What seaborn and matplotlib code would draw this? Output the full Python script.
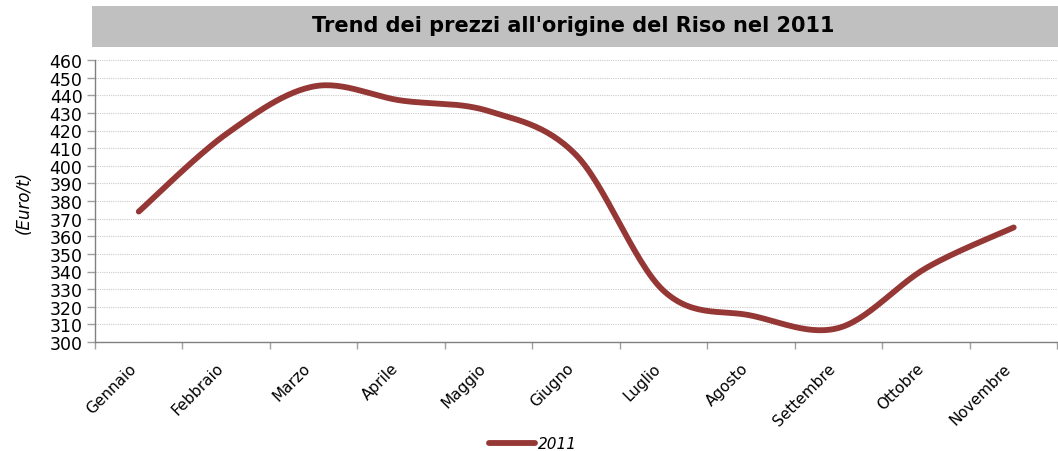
import numpy as np
import pandas as pd
import matplotlib
matplotlib.use("Agg")
import matplotlib.pyplot as plt
import seaborn as sns
from matplotlib.patches import Rectangle
from matplotlib.lines import Line2D

# ---- data ----
mesi = ["Gennaio", "Febbraio", "Marzo", "Aprile", "Maggio", "Giugno",
        "Luglio", "Agosto", "Settembre", "Ottobre", "Novembre"]
prezzi_2011 = [374, 418, 445, 437, 431, 406, 329, 315, 308, 342, 365]
serie = "2011"
titolo = "Trend dei prezzi all'origine del Riso nel 2011"
y_ticks = list(range(300, 461, 10))

color = "#953735"

sns.set_theme(style="white")
plt.rcParams["font.family"] = ["DejaVu Sans"]
plt.rcParams["text.color"] = "black"
plt.rcParams["xtick.color"] = "black"
plt.rcParams["ytick.color"] = "black"
plt.rcParams["axes.labelcolor"] = "black"

fig = plt.figure(figsize=(10.58, 4.52), dpi=100)
ax = fig.add_axes([95/1058, 1 - 343/452, 1 - 95/1058 - 0.0005, (343 - 61)/452])

# smooth (Excel-like Catmull-Rom) rendering of the series
x = np.arange(len(mesi), dtype=float)
y = np.array(prezzi_2011, dtype=float)
xs, ys = [], []
n = len(x)
for i in range(n - 1):
    p0 = (x[max(i-1, 0)], y[max(i-1, 0)])
    p1 = (x[i], y[i]); p2 = (x[i+1], y[i+1])
    p3 = (x[min(i+2, n-1)], y[min(i+2, n-1)])
    c1 = (p1[0] + (p2[0]-p0[0])/6, p1[1] + (p2[1]-p0[1])/6)
    c2 = (p2[0] - (p3[0]-p1[0])/6, p2[1] - (p3[1]-p1[1])/6)
    t = np.linspace(0, 1, 30, endpoint=(i == n-2))
    bx = (1-t)**3*p1[0] + 3*(1-t)**2*t*c1[0] + 3*(1-t)*t**2*c2[0] + t**3*p2[0]
    by = (1-t)**3*p1[1] + 3*(1-t)**2*t*c1[1] + 3*(1-t)*t**2*c2[1] + t**3*p2[1]
    xs.extend(bx); ys.extend(by)
df = pd.DataFrame({"x": xs, "y": ys})
sns.lineplot(data=df, x="x", y="y", ax=ax, color=color, linewidth=4.2,
             solid_capstyle="round", estimator=None, sort=False, legend=False)

ax.set_xlim(-0.5, len(mesi) - 0.5)
ax.set_ylim(300, 460)
ax.set_yticks(y_ticks)
ax.set_yticklabels([str(v) for v in y_ticks], fontsize=12.5)
ax.set_xticks(x)
ax.set_xticklabels(mesi, rotation=45, ha="right", fontsize=11)
ax.set_xticks(np.arange(-0.5, len(mesi), 1.0), minor=True)
ax.tick_params(axis="x", which="major", length=0, pad=13)
ax.tick_params(axis="x", which="minor", length=5, width=1, color="#a0a0a0", direction="out", bottom=True)
ax.tick_params(axis="y", length=6, width=1, color="#a0a0a0", direction="out", left=True, pad=3)
ax.set_xlabel("")
ax.set_ylabel("(Euro/t)", fontsize=12, style="italic", labelpad=12)

ax.yaxis.grid(True, color="#cccccc", linestyle=(0, (1, 1)), linewidth=0.8)
ax.xaxis.grid(False)
for s in ["top", "right"]:
    ax.spines[s].set_visible(False)
for s in ["left", "bottom"]:
    ax.spines[s].set_color("#808080")
    ax.spines[s].set_linewidth(1)

# title box
fig.patches.append(Rectangle((92/1058, 1 - 48/452), (1058-92)/1058, 41/452,
                             transform=fig.transFigure, facecolor="#c0c0c0",
                             edgecolor="none", zorder=0))
fig.text(573/1058, 1 - 26/452, titolo, ha="center", va="center",
         fontsize=15, fontweight="bold", color="black")

# legend
handle = Line2D([], [], color=color, linewidth=4.2, solid_capstyle="round")
fig.legend([handle], [serie], loc="center", bbox_to_anchor=(533/1058, 1 - 445/452),
           frameon=False, prop={"style": "italic", "size": 11},
           handlelength=3.0, handletextpad=0.2)

fig.savefig("out.png", dpi=100)
